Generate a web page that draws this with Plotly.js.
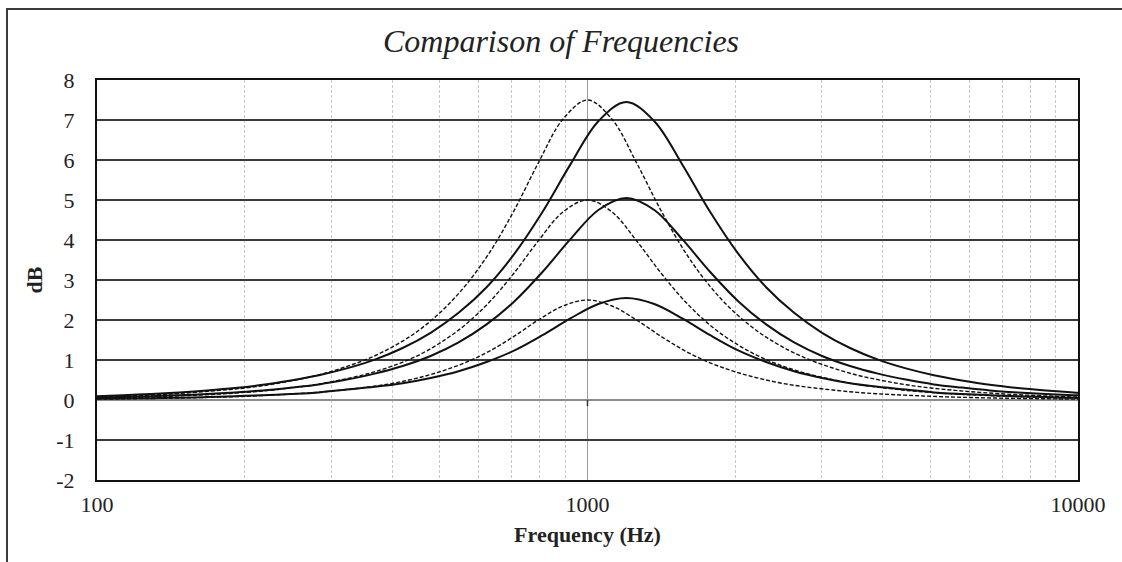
<!DOCTYPE html>
<html>
<head>
<meta charset="utf-8">
<script src="https://cdn.plot.ly/plotly-3.0.1.min.js"></script>
<style>
  html, body { margin: 0; padding: 0; background: #fff; overflow: hidden; }
  #chart { width: 1122px; height: 562px; position: relative; }
  #frame { position: absolute; left: 6px; top: 8px; width: 1200px; height: 700px;
           border-left: 2px solid #3a3a3a; border-top: 2px solid #3a3a3a; pointer-events: none; }
</style>
</head>
<body>
<div id="chart"></div>
<div id="frame"></div>
<script>
// Frequencies (Hz) of the sampled points
const freqDashed = [100, 112, 126, 141, 158, 178, 200, 224, 251, 282, 316, 355, 398, 447, 501, 562, 631, 708, 794, 891,
  1000, 1122, 1259, 1413, 1585, 1778, 1995, 2239, 2512, 2818, 3162, 3548, 3981, 4467, 5012, 5623, 6310, 7079, 7943, 8913, 10000];
const freqSolid = [99.1, 113.0, 128.9, 147.0, 167.6, 191.1, 217.9, 248.4, 283.3, 323.0, 368.3, 419.9, 478.8, 546.0, 622.6, 709.9,
  809.4, 923.0, 1052.4, 1200, 1368.3, 1560.2, 1779.0, 2028.5, 2313.0, 2637.4, 3007.3, 3429.0, 3910.1, 4458.5, 5083.7, 5796.7,
  6609.7, 7536.7, 8593.7, 9799.0, 11173];

// dB values
const dashed75 = [0.074, 0.094, 0.12, 0.15, 0.19, 0.24, 0.30, 0.38, 0.49, 0.62, 0.80, 1.02, 1.31, 1.69, 2.19, 2.84, 3.68, 4.73, 5.93, 7.02,
  7.50, 7.02, 5.93, 4.73, 3.68, 2.84, 2.19, 1.69, 1.31, 1.02, 0.80, 0.62, 0.49, 0.38, 0.30, 0.24, 0.19, 0.15, 0.12, 0.094, 0.074];
const dashed50 = [0.047, 0.059, 0.074, 0.094, 0.12, 0.15, 0.19, 0.24, 0.31, 0.39, 0.51, 0.65, 0.84, 1.09, 1.43, 1.87, 2.45, 3.17, 3.98, 4.70,
  5.00, 4.70, 3.98, 3.17, 2.45, 1.87, 1.43, 1.09, 0.84, 0.65, 0.51, 0.39, 0.31, 0.24, 0.19, 0.15, 0.12, 0.094, 0.074, 0.059, 0.047];
const dashed25 = [0.022, 0.028, 0.036, 0.045, 0.057, 0.072, 0.092, 0.12, 0.15, 0.19, 0.25, 0.32, 0.41, 0.54, 0.71, 0.93, 1.22, 1.59, 2.00, 2.35,
  2.50, 2.35, 2.00, 1.59, 1.22, 0.93, 0.71, 0.54, 0.41, 0.32, 0.25, 0.19, 0.15, 0.12, 0.092, 0.072, 0.057, 0.045, 0.036, 0.028, 0.022];

const solid75 = [0.093, 0.12, 0.15, 0.19, 0.24, 0.30, 0.38, 0.49, 0.62, 0.79, 1.01, 1.30, 1.68, 2.18, 2.82, 3.66, 4.70, 5.89, 6.97,
  7.45, 6.97, 5.89, 4.70, 3.66, 2.82, 2.18, 1.68, 1.30, 1.01, 0.79, 0.62, 0.49, 0.38, 0.30, 0.24, 0.19, 0.15];
const solid50 = [0.060, 0.075, 0.095, 0.12, 0.15, 0.19, 0.24, 0.31, 0.39, 0.51, 0.66, 0.85, 1.10, 1.44, 1.89, 2.47, 3.20, 4.02, 4.75,
  5.05, 4.75, 4.02, 3.20, 2.47, 1.89, 1.44, 1.10, 0.85, 0.66, 0.51, 0.39, 0.31, 0.24, 0.19, 0.15, 0.12, 0.095];
const solid25 = [0.029, 0.037, 0.046, 0.058, 0.073, 0.094, 0.12, 0.15, 0.19, 0.26, 0.33, 0.42, 0.55, 0.72, 0.95, 1.24, 1.62, 2.04, 2.40,
  2.55, 2.40, 2.04, 1.62, 1.24, 0.95, 0.72, 0.55, 0.42, 0.33, 0.26, 0.19, 0.15, 0.12, 0.094, 0.073, 0.058, 0.046];

// Axis ticks
const xTickVals = [100, 1000, 10000];
const xTickText = ['100', '1000', '10000'];
const xMinorVals = [200, 300, 400, 500, 600, 700, 800, 900, 2000, 3000, 4000, 5000, 6000, 7000, 8000, 9000];
const yTickVals = [-2, -1, 0, 1, 2, 3, 4, 5, 6, 7, 8];
const yTickText = ['-2', '-1', '0', '1', '2', '3', '4', '5', '6', '7', '8'];

const serif = 'Liberation Serif';

function dashedTrace(y) {
  return { x: freqDashed, y: y, type: 'scatter', mode: 'lines',
    line: { color: '#111', width: 1.4, dash: '4px,2px', shape: 'spline', smoothing: 1 },
    hoverinfo: 'x+y', showlegend: false };
}
function solidTrace(y) {
  return { x: freqSolid, y: y, type: 'scatter', mode: 'lines',
    line: { color: '#111', width: 2, shape: 'spline', smoothing: 1 },
    hoverinfo: 'x+y', showlegend: false };
}

const data = [
  dashedTrace(dashed25), dashedTrace(dashed50), dashedTrace(dashed75),
  solidTrace(solid25), solidTrace(solid50), solidTrace(solid75)
];

const layout = {
  width: 1122, height: 562,
  margin: { l: 97, r: 44, t: 80, b: 82 },
  paper_bgcolor: '#fff', plot_bgcolor: '#fff',
  showlegend: false,
  font: { family: serif, color: '#222' },
  title: { text: 'Comparison of Frequencies', font: { family: serif, size: 32, color: '#222', style: 'italic' },
           x: 0.5, xref: 'container', y: 0.927, yref: 'container', yanchor: 'middle' },
  xaxis: {
    type: 'log', range: [2, 4],
    tickmode: 'array', tickvals: xTickVals, ticktext: xTickText,
    tickfont: { family: serif, size: 22, color: '#222' },
    ticks: '', ticklabelstandoff: 4,
    showgrid: true, gridcolor: '#9a9a9a', gridwidth: 1.2,
    minor: { tickmode: 'array', tickvals: xMinorVals, showgrid: true, gridcolor: '#c8c8c8', gridwidth: 1, griddash: '3px,2px', ticks: '' },
    showline: true, linecolor: '#111', linewidth: 2, mirror: true,
    zeroline: false,
    title: { text: '<b>Frequency (Hz)</b>', font: { family: serif, size: 22, color: '#222' }, standoff: 10 }
  },
  yaxis: {
    range: [-2, 8],
    tickmode: 'array', tickvals: yTickVals, ticktext: yTickText,
    tickfont: { family: serif, size: 22, color: '#222' },
    ticks: '', ticklabelstandoff: 16,
    showgrid: true, gridcolor: '#3a3a3a', gridwidth: 2,
    zeroline: true, zerolinecolor: '#8c8c8c', zerolinewidth: 2,
    showline: true, linecolor: '#111', linewidth: 2, mirror: true,
    title: { text: '<b>dB</b>', font: { family: serif, size: 22, color: '#222' }, standoff: 8 }
  },
  shapes: [
    { type: 'line', xref: 'x', yref: 'y', x0: 1000, x1: 1000, y0: 0, y1: -0.15, line: { color: '#333', width: 1.5 } }
  ]
};

Plotly.newPlot('chart', data, layout, { displayModeBar: false, staticPlot: true });
</script>
</body>
</html>
